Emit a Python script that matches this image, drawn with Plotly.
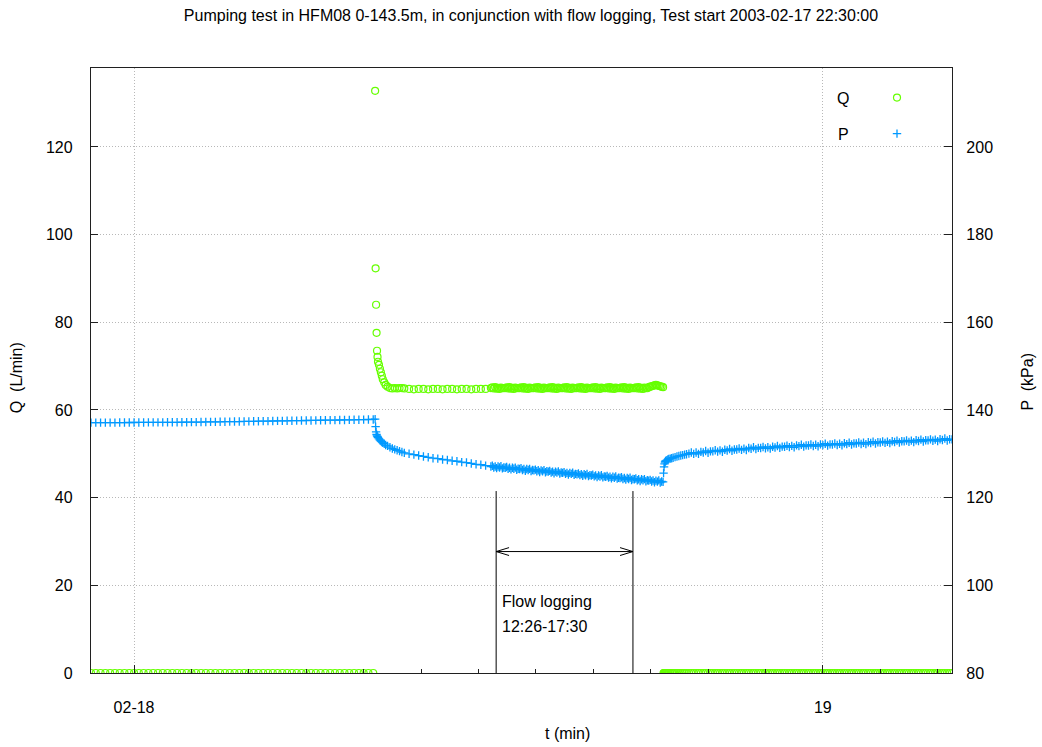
import pandas as pd
import plotly.graph_objects as go

# ---------------- data (t in minutes since test start) ----------------
TEST_START = "2003-02-17 22:30:00"

# before pumping
t_pre = [0, 10, 20, 30, 40, 50, 60, 70, 80, 90,
         100, 110, 120, 130, 140, 150, 160, 170, 180, 190,
         200, 210, 220, 230, 240, 250, 260, 270, 280, 290,
         300, 310, 320, 330, 340, 350, 360, 370, 380, 390,
         400, 410, 420, 430, 440, 450, 460, 470, 480, 490,
         500, 510, 520, 530, 540, 550, 560, 570, 580, 590]
p_pre = [137.10, 137.10, 137.11, 137.11, 137.12, 137.12, 137.13, 137.13, 137.14, 137.14,
         137.15, 137.15, 137.16, 137.16, 137.17, 137.17, 137.18, 137.18, 137.19, 137.20,
         137.21, 137.22, 137.23, 137.24, 137.26, 137.27, 137.29, 137.30, 137.32, 137.33,
         137.35, 137.36, 137.38, 137.40, 137.41, 137.43, 137.45, 137.46, 137.48, 137.50,
         137.51, 137.53, 137.55, 137.56, 137.58, 137.60, 137.61, 137.63, 137.65, 137.66,
         137.68, 137.69, 137.71, 137.72, 137.74, 137.76, 137.78, 137.80, 137.82, 137.84]
q_pre = [0.0, 0.0, 0.0, 0.0, 0.0, 0.0, 0.0, 0.0, 0.0, 0.0,
         0.0, 0.0, 0.0, 0.0, 0.0, 0.0, 0.0, 0.0, 0.0, 0.0,
         0.0, 0.0, 0.0, 0.0, 0.0, 0.0, 0.0, 0.0, 0.0, 0.0,
         0.0, 0.0, 0.0, 0.0, 0.0, 0.0, 0.0, 0.0, 0.0, 0.0,
         0.0, 0.0, 0.0, 0.0, 0.0, 0.0, 0.0, 0.0, 0.0, 0.0,
         0.0, 0.0, 0.0, 0.0, 0.0, 0.0, 0.0, 0.0, 0.0, 0.0]

# pump start
t_start = [594, 595, 596, 597, 598, 599, 600, 602, 604, 606, 608,
           610, 613, 616, 620, 625, 630, 635, 640, 645, 650, 655]
p_start = [137.9, 136.2, 135.0, 134.4, 134.1, 133.9, 133.7, 133.4, 133.1, 132.9, 132.7,
           132.5, 132.3, 132.0, 131.8, 131.5, 131.2, 131.0, 130.8, 130.6, 130.4, 130.2]
q_start = [132.8, 92.3, 84.0, 77.6, 73.5, 72.1, 71.0, 70.3, 69.4, 68.6, 67.8,
           67.0, 66.3, 65.7, 65.3, 65.0, 64.9, 65.0, 64.9, 65.0, 65.0, 64.9]

# pumping, sparse logging
t_mid = [665, 675, 685, 695, 705, 715, 725, 735, 745, 755, 765, 775, 785, 795, 805, 815, 825]
p_mid = [130.0, 129.8, 129.6, 129.4, 129.2, 129.0, 128.9, 128.7, 128.6, 128.4,
         128.3, 128.1, 128.0, 127.8, 127.6, 127.5, 127.3]
q_mid = [64.8, 64.7, 64.8, 64.8, 64.7, 64.8, 64.8, 64.7, 64.8, 64.8,
         64.7, 64.8, 64.8, 64.7, 64.8, 64.8, 64.8]

# pumping, dense logging during flow logging
t_flow = [836, 839, 842, 845, 848, 851, 854, 857, 860, 863,
          866, 869, 872, 875, 878, 881, 884, 887, 890, 893,
          896, 899, 902, 905, 908, 911, 914, 917, 920, 923,
          926, 929, 932, 935, 938, 941, 944, 947, 950, 953,
          956, 959, 962, 965, 968, 971, 974, 977, 980, 983,
          986, 989, 992, 995, 998, 1001, 1004, 1007, 1010, 1013,
          1016, 1019, 1022, 1025, 1028, 1031, 1034, 1037, 1040, 1043,
          1046, 1049, 1052, 1055, 1058, 1061, 1064, 1067, 1070, 1073,
          1076, 1079, 1082, 1085, 1088, 1091, 1094, 1097, 1100, 1103,
          1106, 1109, 1112, 1115, 1118, 1121, 1124, 1127, 1130, 1133,
          1136, 1139, 1142, 1145, 1148, 1151, 1154, 1157, 1160, 1163,
          1166, 1169, 1172, 1175, 1178, 1181, 1184, 1187, 1190, 1193,
          1196]
p_flow = [127.10, 127.27, 126.89, 127.11, 126.73, 127.10, 126.88, 127.15, 126.67, 126.89,
          126.81, 126.98, 126.60, 126.82, 126.44, 126.81, 126.58, 126.85, 126.37, 126.60,
          126.52, 126.69, 126.31, 126.53, 126.15, 126.52, 126.29, 126.56, 126.08, 126.30,
          126.22, 126.40, 126.02, 126.24, 125.86, 126.23, 126.00, 126.27, 125.79, 126.01,
          125.93, 126.10, 125.72, 125.94, 125.57, 125.94, 125.71, 125.98, 125.50, 125.72,
          125.64, 125.81, 125.43, 125.65, 125.27, 125.64, 125.42, 125.69, 125.21, 125.43,
          125.35, 125.52, 125.14, 125.36, 124.98, 125.35, 125.12, 125.39, 124.91, 125.14,
          125.06, 125.23, 124.85, 125.07, 124.69, 125.06, 124.83, 125.10, 124.62, 124.84,
          124.76, 124.94, 124.56, 124.78, 124.40, 124.77, 124.54, 124.81, 124.33, 124.55,
          124.47, 124.64, 124.26, 124.48, 124.11, 124.48, 124.25, 124.52, 124.04, 124.26,
          124.18, 124.35, 123.97, 124.19, 123.81, 124.18, 123.96, 124.23, 123.75, 123.97,
          123.89, 124.06, 123.68, 123.90, 123.52, 123.89, 123.66, 123.93, 123.45, 123.68,
          123.60]
q_flow = [65.00, 65.15, 64.90, 65.20, 64.85, 65.05, 64.80, 65.10, 65.00, 64.95,
          65.00, 65.15, 64.90, 65.20, 64.85, 65.05, 64.80, 65.10, 65.00, 64.95,
          65.00, 65.15, 64.90, 65.20, 64.85, 65.05, 64.80, 65.10, 65.00, 64.95,
          65.00, 65.15, 64.90, 65.20, 64.85, 65.05, 64.80, 65.10, 65.00, 64.95,
          65.00, 65.15, 64.90, 65.20, 64.85, 65.05, 64.80, 65.10, 65.00, 64.95,
          65.00, 65.15, 64.90, 65.20, 64.85, 65.05, 64.80, 65.10, 65.00, 64.95,
          65.00, 65.15, 64.90, 65.20, 64.85, 65.05, 64.80, 65.10, 65.00, 64.95,
          65.00, 65.15, 64.90, 65.20, 64.85, 65.05, 64.80, 65.10, 65.00, 64.95,
          65.00, 65.15, 64.90, 65.20, 64.85, 65.05, 64.80, 65.10, 65.00, 64.95,
          65.00, 65.15, 64.90, 65.20, 64.85, 65.05, 64.80, 65.10, 65.00, 64.95,
          65.00, 65.15, 64.90, 65.20, 64.85, 65.05, 64.80, 65.10, 65.00, 64.95,
          65.20, 65.30, 65.40, 65.50, 65.60, 65.70, 65.60, 65.50, 65.40, 65.30,
          65.20]

# recovery
t_rec = [1197, 1198, 1199, 1200, 1201, 1202, 1204, 1206, 1208, 1211,
         1214, 1217, 1221, 1225, 1229, 1233, 1237, 1241, 1245,
         1250, 1255, 1260, 1265, 1270, 1275, 1280, 1285, 1290, 1295,
         1300, 1305, 1310, 1315, 1320, 1325, 1330, 1335, 1340, 1345,
         1350, 1355, 1360, 1365, 1370, 1375, 1380, 1385, 1390, 1395,
         1400, 1405, 1410, 1415, 1420, 1425, 1430, 1435, 1440, 1445,
         1450, 1455, 1460, 1465, 1470, 1475, 1480, 1485, 1490, 1495,
         1500, 1505, 1510, 1515, 1520, 1525, 1530, 1535, 1540, 1545,
         1550, 1555, 1560, 1565, 1570, 1575, 1580, 1585, 1590, 1595,
         1600, 1605, 1610, 1615, 1620, 1625, 1630, 1635, 1640, 1645,
         1650, 1655, 1660, 1665, 1670, 1675, 1680, 1685, 1690, 1695,
         1700, 1705, 1710, 1715, 1720, 1725, 1730, 1735, 1740, 1745,
         1750, 1755, 1760, 1765, 1770, 1775, 1780, 1785, 1790, 1795,
         1800]
p_rec = [125.6, 127.0, 127.7, 128.1, 128.3, 128.4, 128.55, 128.7, 128.8, 128.9,
         129.0, 129.1, 129.25, 129.4, 129.5, 129.6, 129.7, 129.8, 129.9,
         130.04, 130.29, 129.99, 130.29, 129.99, 130.44, 130.30, 130.65, 130.25, 130.55,
         130.55, 130.80, 130.50, 130.79, 130.48, 130.92, 130.76, 131.10, 130.69, 130.98,
         130.97, 131.21, 130.90, 131.19, 130.88, 131.32, 131.16, 131.49, 131.07, 131.35,
         131.32, 131.55, 131.23, 131.51, 131.19, 131.62, 131.45, 131.78, 131.35, 131.63,
         131.61, 131.84, 131.52, 131.80, 131.48, 131.91, 131.74, 132.06, 131.64, 131.91,
         131.89, 132.11, 131.78, 132.06, 131.73, 132.15, 131.98, 132.30, 131.87, 132.15,
         132.12, 132.34, 132.02, 132.29, 131.96, 132.39, 132.21, 132.53, 132.11, 132.38,
         132.36, 132.58, 132.25, 132.53, 132.20, 132.62, 132.45, 132.77, 132.34, 132.62,
         132.59, 132.81, 132.49, 132.76, 132.43, 132.86, 132.68, 133.01, 132.58, 132.85,
         132.83, 133.05, 132.72, 133.00, 132.67, 133.09, 132.92, 133.24, 132.81, 133.09,
         133.06, 133.28, 132.96, 133.23, 132.90, 133.33, 133.15, 133.48, 133.05, 133.32,
         133.30]
q_rec = [0.0, 0.0, 0.0, 0.0, 0.0, 0.0, 0.0, 0.0, 0.0, 0.0,
         0.0, 0.0, 0.0, 0.0, 0.0, 0.0, 0.0, 0.0, 0.0,
         0.0, 0.0, 0.0, 0.0, 0.0, 0.0, 0.0, 0.0, 0.0, 0.0,
         0.0, 0.0, 0.0, 0.0, 0.0, 0.0, 0.0, 0.0, 0.0, 0.0,
         0.0, 0.0, 0.0, 0.0, 0.0, 0.0, 0.0, 0.0, 0.0, 0.0,
         0.0, 0.0, 0.0, 0.0, 0.0, 0.0, 0.0, 0.0, 0.0, 0.0,
         0.0, 0.0, 0.0, 0.0, 0.0, 0.0, 0.0, 0.0, 0.0, 0.0,
         0.0, 0.0, 0.0, 0.0, 0.0, 0.0, 0.0, 0.0, 0.0, 0.0,
         0.0, 0.0, 0.0, 0.0, 0.0, 0.0, 0.0, 0.0, 0.0, 0.0,
         0.0, 0.0, 0.0, 0.0, 0.0, 0.0, 0.0, 0.0, 0.0, 0.0,
         0.0, 0.0, 0.0, 0.0, 0.0, 0.0, 0.0, 0.0, 0.0, 0.0,
         0.0, 0.0, 0.0, 0.0, 0.0, 0.0, 0.0, 0.0, 0.0, 0.0,
         0.0, 0.0, 0.0, 0.0, 0.0, 0.0, 0.0, 0.0, 0.0, 0.0,
         0.0]

tick_dates = ["2003-02-18", "2003-02-19"]
tick_labels = ["02-18", "19"]

FLOW_LOG_START_MIN = 847   # drawn position of left marker line
FLOW_LOG_END_MIN = 1133    # drawn position of right marker line

# ---------------- assemble ----------------
segments = [(t_pre, p_pre, q_pre), (t_start, p_start, q_start), (t_mid, p_mid, q_mid),
            (t_flow, p_flow, q_flow), (t_rec, p_rec, q_rec)]
t_min, p_kpa, q_lpm = [], [], []
for t, p, q in segments:
    assert len(t) == len(p) == len(q), (len(t), len(p), len(q))
    t_min += t
    p_kpa += p
    q_lpm += q

start = pd.Timestamp(TEST_START)


def to_time(minutes):
    return start + pd.to_timedelta(minutes, unit="min")


times = to_time(pd.Series(t_min, dtype=float))

GREEN = "#66ff00"
BLUE = "#0099ff"
FONT = "Liberation Sans, Arial, sans-serif"
AXC = "#202020"
GRIDC = "#b8b8b8"
FS = 16

fig = go.Figure()
fig.add_trace(go.Scatter(
    x=times, y=q_lpm, mode="markers", name="Q", yaxis="y", legend="legend",
    marker=dict(symbol="circle-open", size=7, color=GREEN, line=dict(width=1.2, color=GREEN)),
))
fig.add_trace(go.Scatter(
    x=times, y=p_kpa, mode="markers", name="P", yaxis="y2", legend="legend2",
    marker=dict(symbol="cross-thin", size=6, color=BLUE, line=dict(width=1.3, color=BLUE)),
))

x0 = to_time(FLOW_LOG_START_MIN)
x1 = to_time(FLOW_LOG_END_MIN)
line_top = 41.5
arrow_y = 27.7
head_dx = 27   # minutes
head_dy = 0.9

shapes = [
    dict(type="rect", xref="paper", yref="paper", x0=0.863, x1=1.0, y0=0.864, y1=1.0,
         fillcolor="white", line=dict(width=0), layer="between"),
    dict(type="line", xref="x", yref="y", x0=x0, x1=x0, y0=0, y1=line_top, line=dict(color="black", width=1)),
    dict(type="line", xref="x", yref="y", x0=x1, x1=x1, y0=0, y1=line_top, line=dict(color="black", width=1)),
    dict(type="line", xref="x", yref="y", x0=x0, x1=x1, y0=arrow_y, y1=arrow_y, line=dict(color="black", width=1)),
]
for (xa, sign) in [(FLOW_LOG_START_MIN, 1), (FLOW_LOG_END_MIN, -1)]:
    for dy in (head_dy, -head_dy):
        shapes.append(dict(type="line", xref="x", yref="y",
                           x0=to_time(xa), y0=arrow_y,
                           x1=to_time(xa + sign * head_dx), y1=arrow_y + dy,
                           line=dict(color="black", width=1)))

annotations = [
    dict(text="Flow logging", xref="x", yref="y", x=to_time(855), y=16.4, xanchor="left",
         yanchor="middle", showarrow=False, font=dict(size=FS)),
    dict(text="12:26-17:30", xref="x", yref="y", x=to_time(855), y=10.7, xanchor="left",
         yanchor="middle", showarrow=False, font=dict(size=FS)),
    dict(text="t (min)", xref="paper", yref="paper", x=0.553, y=-0.1008, xanchor="center",
         yanchor="middle", showarrow=False, font=dict(size=FS)),
    dict(text="Q  (L/min)", xref="paper", yref="paper", x=-0.0865, y=0.488, textangle=-90,
         xanchor="center", yanchor="middle", showarrow=False, font=dict(size=FS)),
    dict(text="P  (kPa)", xref="paper", yref="paper", x=1.0877, y=0.481, textangle=-90,
         xanchor="center", yanchor="middle", showarrow=False, font=dict(size=FS)),
    dict(text="Q", xref="paper", yref="paper", x=(851 - 91) / 861, y=(673 - 98.5) / 605,
         xanchor="right", yanchor="middle", showarrow=False, font=dict(size=FS)),
    dict(text="P", xref="paper", yref="paper", x=(851 - 91) / 861, y=(673 - 134) / 605,
         xanchor="right", yanchor="middle", showarrow=False, font=dict(size=FS)),
]

legend_common = dict(bgcolor="rgba(0,0,0,0)", font=dict(color="rgba(0,0,0,0)", size=14),
                     xanchor="left", yanchor="middle", borderwidth=0)

fig.update_layout(
    width=1042, height=747,
    margin=dict(l=91, r=90, t=68, b=74, pad=0),
    paper_bgcolor="white", plot_bgcolor="white",
    font=dict(family=FONT, size=FS, color="black"),
    title=dict(text="Pumping test in HFM08 0-143.5m, in conjunction with flow logging, Test start 2003-02-17 22:30:00",
               x=531 / 1042, xref="container", xanchor="center",
               y=1 - 15 / 747, yref="container", yanchor="middle",
               font=dict(size=FS)),
    showlegend=True,
    legend=dict(x=(877 - 91) / 861, y=(673 - 98) / 605, **legend_common),
    legend2=dict(x=(877 - 91) / 861, y=(673 - 134) / 605, **legend_common),
    xaxis=dict(
        type="date",
        range=[to_time(0), to_time(1800)],
        tickmode="array", tickvals=tick_dates, ticktext=tick_labels,
        ticks="inside", ticklen=8, tickwidth=1, tickcolor=AXC,
        ticklabelstandoff=20,
        showgrid=True, gridcolor=GRIDC, griddash="1px,2px", gridwidth=1,
        showline=True, linecolor=AXC, linewidth=1.3, mirror=True,
        zeroline=False,
        minor=dict(tickmode="linear", tick0="2003-02-18", dtick=2 * 3600 * 1000,
                   ticks="inside", ticklen=4, tickcolor=AXC, showgrid=False),
    ),
    yaxis=dict(
        range=[0, 138], tickmode="linear", tick0=0, dtick=20,
        ticks="inside", ticklen=7, tickwidth=1, tickcolor=AXC,
        ticklabelstandoff=14,
        showgrid=True, gridcolor=GRIDC, griddash="1px,2px", gridwidth=1,
        showline=True, linecolor=AXC, linewidth=1.3, zeroline=False,
    ),
    yaxis2=dict(
        range=[80, 218], tickmode="linear", tick0=80, dtick=20,
        overlaying="y", side="right",
        ticks="inside", ticklen=8, tickwidth=1, tickcolor=AXC,
        ticklabelstandoff=10,
        showgrid=False, showline=True, linecolor=AXC, linewidth=1.3, zeroline=False,
    ),
    shapes=shapes,
    annotations=annotations,
)

fig.write_html("out.html")
